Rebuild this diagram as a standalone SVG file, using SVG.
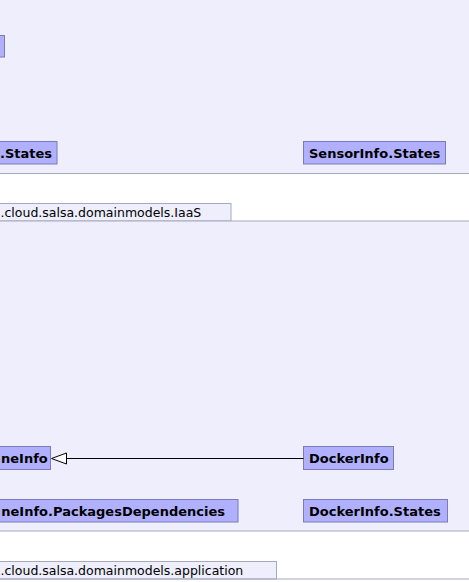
<svg xmlns="http://www.w3.org/2000/svg" width="469" height="582" viewBox="0 0 469 582">
<style>
.pkg{fill:#EEEEFC;stroke:none}
.pline{stroke:#A8A8BC;stroke-width:1.2;fill:none}
.tab{fill:#EEEEFC;stroke:#A8A8BC;stroke-width:1}
.node{fill:#B0B0FF;stroke:#7B7BB8;stroke-width:1}
.lbl{font-family:"DejaVu Sans",sans-serif;font-weight:bold;font-size:13px;fill:#000}
.tlbl{font-family:"DejaVu Sans",sans-serif;font-size:12.5px;fill:#000}
</style>
<rect width="469" height="582" fill="#fff"/>
<g id="pkg-iaas">
<rect class="pkg" x="0" y="0" width="469" height="173.5"/>
<line class="pline" x1="0" y1="173.5" x2="469" y2="173.5"/>
<rect class="tab" x="-1" y="203.5" width="232" height="17.5"/>
<text class="tlbl" x="0.5" y="216.5">.cloud.salsa.domainmodels.IaaS</text>
</g>
<g id="pkg-app">
<rect class="pkg" x="0" y="221" width="469" height="310"/>
<line class="pline" x1="0" y1="221" x2="469" y2="221"/>
<line class="pline" x1="0" y1="531" x2="469" y2="531"/>
<rect class="tab" x="-1" y="561.5" width="277.5" height="17.5"/>
<text class="tlbl" x="0.5" y="575">.cloud.salsa.domainmodels.application</text>
<line class="pline" x1="0" y1="579" x2="469" y2="579"/>
</g>
<g id="node-top-left"><rect class="node" x="-2" y="35.5" width="6.5" height="21.5"/></g>
<g id="node-states"><rect class="node" x="-2" y="141.5" width="59" height="22.5"/><text class="lbl" x="52" y="157.5" text-anchor="end">.States</text></g>
<g id="node-sensorinfo-states"><rect class="node" x="303.5" y="141.5" width="142" height="22.5"/><text class="lbl" x="309" y="157.5">SensorInfo.States</text></g>
<g id="node-neinfo"><rect class="node" x="-2" y="446.5" width="52.5" height="23"/><text class="lbl" x="1" y="463">neInfo</text></g>
<g id="node-dockerinfo"><rect class="node" x="303.5" y="446.5" width="90" height="23"/><text class="lbl" x="309" y="463">DockerInfo</text></g>
<g id="node-pkgdeps"><rect class="node" x="-2" y="499.5" width="240" height="22.5"/><text class="lbl" x="1.3" y="515.5">neInfo.PackagesDependencies</text></g>
<g id="node-dockerinfo-states"><rect class="node" x="303.5" y="499.5" width="144" height="22.5"/><text class="lbl" x="309" y="515.5">DockerInfo.States</text></g>
<g id="connectors">
<line x1="303.5" y1="458.5" x2="66.5" y2="458.5" stroke="#000" stroke-width="1"/>
<path d="M51.5,458.5 L66.5,453 L66.5,464 Z" fill="#fff" stroke="#000" stroke-width="1"/>
</g>
</svg>
